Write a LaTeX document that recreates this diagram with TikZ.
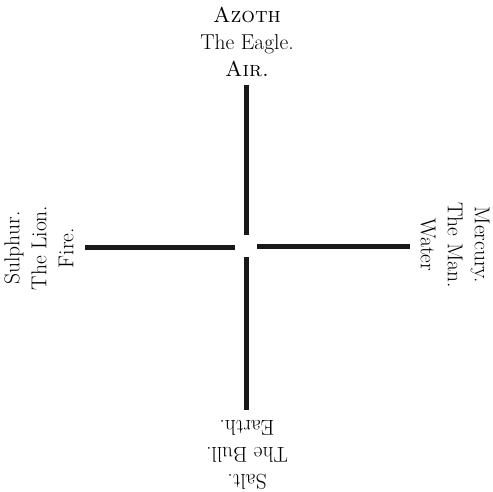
\documentclass[tikz,border=0pt]{standalone}
\begin{document}
\begin{tikzpicture}[x=1pt,y=-1pt,
  bar/.style={line width=5pt,draw=black!90},
  lbl/.style={align=center,inner sep=0pt,font=\fontsize{21.5}{27}\selectfont,text=black}]
\useasboundingbox (0,0) rectangle (493,492);
\coordinate (c) at (247,247);
\coordinate (t1) at (246,85);  \coordinate (t2) at (246,235);
\coordinate (b1) at (246,257); \coordinate (b2) at (246,410);
\coordinate (l1) at (85,247);  \coordinate (l2) at (235,247);
\coordinate (r1) at (257,246); \coordinate (r2) at (410,246);
\draw[bar] (t1) -- (t2);
\draw[bar] (b1) -- (b2);
\draw[bar] (l1) -- (l2);
\draw[bar] (r1) -- (r2);
\node[lbl] (top) at (247,42) {\textsc{Azoth}\\The Eagle.\\\textsc{Air.}};
\node[lbl,rotate=90] (left) at (39,248) {Sulphur.\\The Lion.\\Fire.};
\node[lbl,rotate=-90] (right) at (455,245) {Mercury.\\The Man.\\Water};
\node[lbl,rotate=180] (bottom) at (247,455) {Salt.\\The Bull.\\Earth.};
\end{tikzpicture}
\end{document}
